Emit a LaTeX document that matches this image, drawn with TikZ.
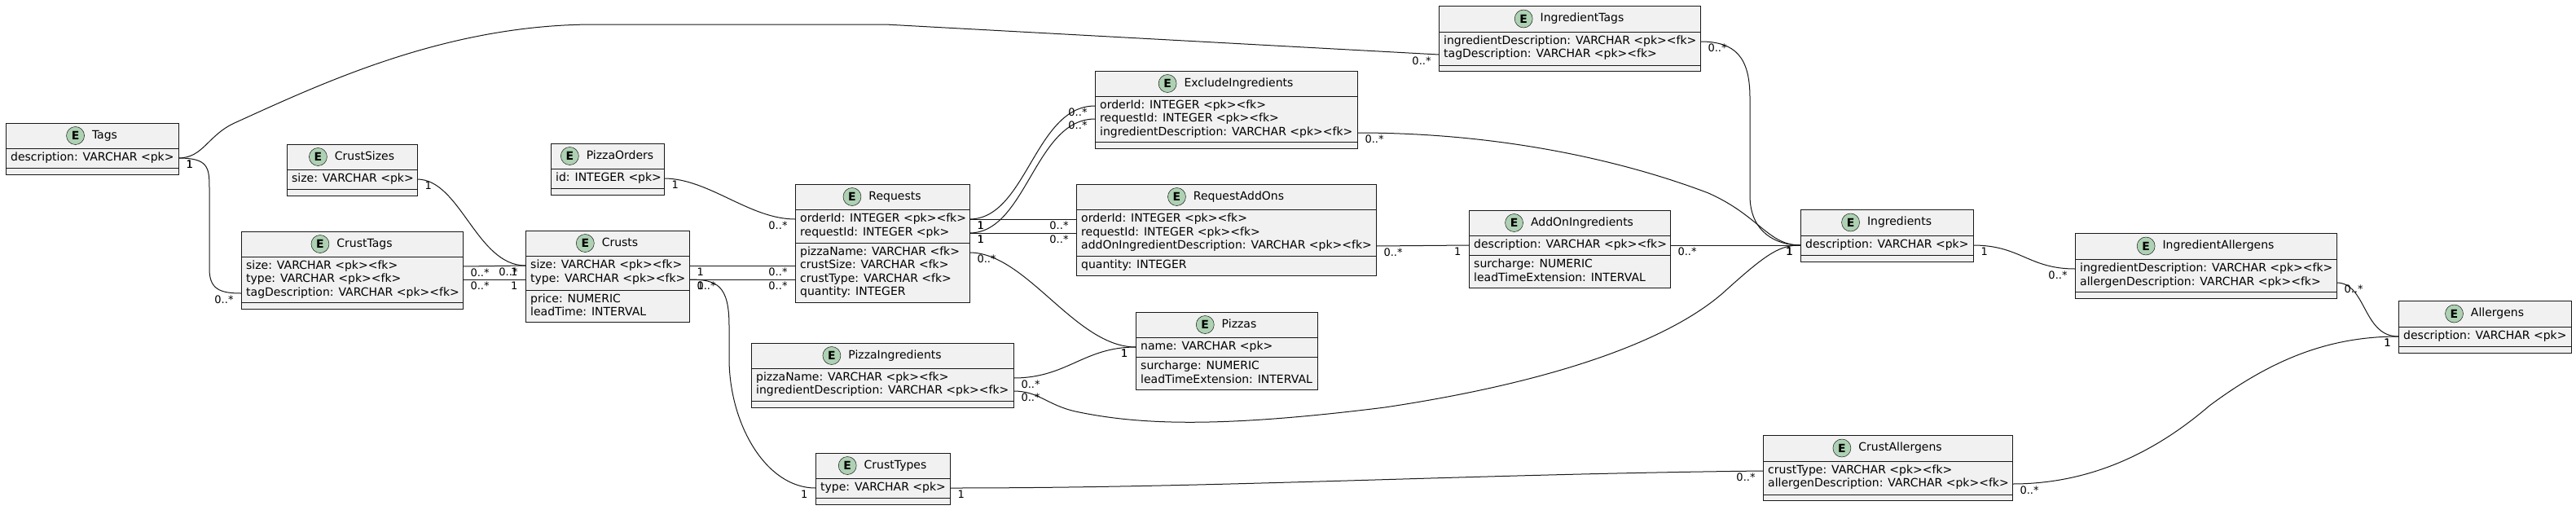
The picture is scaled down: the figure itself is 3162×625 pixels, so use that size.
\documentclass[tikz,border=0pt]{standalone}
\usepackage{fontspec}
\setmainfont{DejaVu Sans}
\usepackage{tikz}
\usetikzlibrary{positioning}
\definecolor{cline}{HTML}{181818}
\definecolor{cbox}{HTML}{F1F1F1}
\definecolor{cspot}{HTML}{ADD1B2}

\begin{document}
\begin{tikzpicture}[x=1pt,y=-1pt,
    ent/.style={draw=cline,fill=cbox,line width=0.5pt,anchor=north west,outer sep=0pt,inner sep=0pt},
    ttl/.style={inner sep=0pt,font=\fontsize{14}{16}\selectfont,text height=10.5pt,text depth=3pt},
    spot/.style={circle,draw=cline,fill=cspot,line width=0.5pt,minimum size=22pt,inner sep=0pt,font=\fontsize{14}{16}\selectfont\bfseries},
    row/.style={anchor=west,inner sep=0pt,font=\fontsize{14}{16}\selectfont,text height=10.5pt,text depth=3pt},
    sep/.style={draw=cline,line width=0.5pt},
    pksep/.style={draw=cline,line width=1pt},
    rel/.style={draw=cline,line width=1pt},
    mr/.style={anchor=west,xshift=7pt,yshift=-8pt,inner sep=2pt,font=\fontsize{13}{15}\selectfont},
    ml/.style={anchor=east,xshift=-7pt,yshift=-8pt,inner sep=2pt,font=\fontsize{13}{15}\selectfont}]
    \fill[white] (0,0) rectangle (3162,625);

    \node[ent,minimum width=212pt,minimum height=63pt] (tags) at (7,151) {};
    \node[ttl] (tagsT) at (128.5,166.5) {Tags};
    \node[spot,left=9pt of tagsT] (tagsE) {E};
    \draw[sep] (7,182) -- (219,182) (7,206) -- (219,206);
    \node[row] (tagsDesc) at (13,194) {description: VARCHAR <pk>};

    \node[ent,minimum width=160pt,minimum height=63pt] (csizes) at (352,177) {};
    \node[ttl] (csizesT) at (447.5,192.5) {CrustSizes};
    \node[spot,left=9pt of csizesT] (csizesE) {E};
    \draw[sep] (352,208) -- (512,208) (352,232) -- (512,232);
    \node[row] (csizesSize) at (358,220) {size: VARCHAR <pk>};

    \node[ent,minimum width=139pt,minimum height=63pt] (porders) at (676,176) {};
    \node[ttl] (pordersT) at (761,191.5) {PizzaOrders};
    \node[spot,left=9pt of pordersT] (pordersE) {E};
    \draw[sep] (676,207) -- (815,207) (676,231) -- (815,231);
    \node[row] (pordersId) at (682,219) {id: INTEGER <pk>};

    \node[ent,minimum width=272pt,minimum height=95pt] (ctags) at (296,284) {};
    \node[ttl] (ctagsT) at (447.5,299.5) {CrustTags};
    \node[spot,left=9pt of ctagsT] (ctagsE) {E};
    \draw[sep] (296,315) -- (568,315) (296,371) -- (568,371);
    \node[row] (ctagsSize) at (302,327) {size: VARCHAR <pk><fk>};
    \node[row] (ctagsType) at (302,343) {type: VARCHAR <pk><fk>};
    \node[row] (ctagsTag) at (302,360) {tagDescription: VARCHAR <pk><fk>};

    \node[ent,minimum width=201pt,minimum height=112pt] (crusts) at (645,283) {};
    \node[ttl] (crustsT) at (761,298.5) {Crusts};
    \node[spot,left=9pt of crustsT] (crustsE) {E};
    \draw[sep] (645,314) -- (846,314);
    \draw[pksep] (645,356) -- (846,356);
    \node[row] (crustsSize) at (651,326) {size: VARCHAR <pk><fk>};
    \node[row] (crustsType) at (651,343) {type: VARCHAR <pk><fk>};
    \node[row] (crustsPrice) at (651,368) {price: NUMERIC};
    \node[row] (crustsLead) at (651,384) {leadTime: INTERVAL};

    \node[ent,minimum width=214pt,minimum height=145pt] (requests) at (976,226) {};
    \node[ttl] (requestsT) at (1098.5,241.5) {Requests};
    \node[spot,left=9pt of requestsT] (requestsE) {E};
    \draw[sep] (976,257) -- (1190,257);
    \draw[pksep] (976,298) -- (1190,298);
    \node[row] (reqOrder) at (982,269) {orderId: INTEGER <pk><fk>};
    \node[row] (reqId) at (982,286) {requestId: INTEGER <pk>};
    \node[row] (reqPizza) at (982,310) {pizzaName: VARCHAR <fk>};
    \node[row] (reqSize) at (982,326) {crustSize: VARCHAR <fk>};
    \node[row] (reqType) at (982,343) {crustType: VARCHAR <fk>};
    \node[row] (reqQty) at (982,359) {quantity: INTEGER};

    \node[ent,minimum width=322pt,minimum height=95pt] (excl) at (1344,87) {};
    \node[ttl] (exclT) at (1520.5,102.5) {ExcludeIngredients};
    \node[spot,left=9pt of exclT] (exclE) {E};
    \draw[sep] (1344,118) -- (1666,118) (1344,174) -- (1666,174);
    \node[row] (exclOrder) at (1350,130) {orderId: INTEGER <pk><fk>};
    \node[row] (exclReq) at (1350,146) {requestId: INTEGER <pk><fk>};
    \node[row] (exclIngr) at (1350,163) {ingredientDescription: VARCHAR <pk><fk>};

    \node[ent,minimum width=368pt,minimum height=112pt] (addons) at (1321,226) {};
    \node[ttl] (addonsT) at (1520.5,241.5) {RequestAddOns};
    \node[spot,left=9pt of addonsT] (addonsE) {E};
    \draw[sep] (1321,257) -- (1689,257);
    \draw[pksep] (1321,314) -- (1689,314);
    \node[row] (addonsOrder) at (1327,269) {orderId: INTEGER <pk><fk>};
    \node[row] (addonsReq) at (1327,286) {requestId: INTEGER <pk><fk>};
    \node[row] (addonsIngr) at (1327,302) {addOnIngredientDescription: VARCHAR <pk><fk>};
    \node[row] (addonsQty) at (1327,326) {quantity: INTEGER};

    \node[ent,minimum width=321pt,minimum height=80pt] (itags) at (1766,7) {};
    \node[ttl] (itagsT) at (1942,23) {IngredientTags};
    \node[spot,left=9pt of itagsT] (itagsE) {E};
    \draw[sep] (1766,39) -- (2087,39) (1766,80) -- (2087,80);
    \node[row] (itagsIngr) at (1772,51) {ingredientDescription: VARCHAR <pk><fk>};
    \node[row] (itagsTag) at (1772,67) {tagDescription: VARCHAR <pk><fk>};

    \node[ent,minimum width=247pt,minimum height=95pt] (aoingr) at (1803,258) {};
    \node[ttl] (aoingrT) at (1942,273.5) {AddOnIngredients};
    \node[spot,left=9pt of aoingrT] (aoingrE) {E};
    \draw[sep] (1803,289) -- (2050,289);
    \draw[pksep] (1803,313) -- (2050,313);
    \node[row] (aoingrDesc) at (1809,301) {description: VARCHAR <pk><fk>};
    \node[row] (aoingrSur) at (1809,325) {surcharge: NUMERIC};
    \node[row] (aoingrLead) at (1809,342) {leadTimeExtension: INTERVAL};

    \node[ent,minimum width=212pt,minimum height=64pt] (ingr) at (2210,257) {};
    \node[ttl] (ingrT) at (2331.5,273) {Ingredients};
    \node[spot,left=9pt of ingrT] (ingrE) {E};
    \draw[sep] (2210,289) -- (2422,289) (2210,313) -- (2422,313);
    \node[row] (ingrDesc) at (2216,301) {description: VARCHAR <pk>};

    \node[ent,minimum width=321pt,minimum height=80pt] (iallerg) at (2547,286) {};
    \node[ttl] (iallergT) at (2723,302) {IngredientAllergens};
    \node[spot,left=9pt of iallergT] (iallergE) {E};
    \draw[sep] (2547,318) -- (2868,318) (2547,358) -- (2868,358);
    \node[row] (iallergIngr) at (2553,330) {ingredientDescription: VARCHAR <pk><fk>};
    \node[row] (iallergAllerg) at (2553,347) {allergenDescription: VARCHAR <pk><fk>};

    \node[ent,minimum width=212pt,minimum height=64pt] (allerg) at (2944,369) {};
    \node[ttl] (allergT) at (3065.5,385) {Allergens};
    \node[spot,left=9pt of allergT] (allergE) {E};
    \draw[sep] (2944,401) -- (3156,401) (2944,425) -- (3156,425);
    \node[row] (allergDesc) at (2950,413) {description: VARCHAR <pk>};

    \node[ent,minimum width=223pt,minimum height=95pt] (pizzas) at (1394,383) {};
    \node[ttl] (pizzasT) at (1521,398.5) {Pizzas};
    \node[spot,left=9pt of pizzasT] (pizzasE) {E};
    \draw[sep] (1394,414) -- (1617,414);
    \draw[pksep] (1394,438) -- (1617,438);
    \node[row] (pizzasName) at (1400,426) {name: VARCHAR <pk>};
    \node[row] (pizzasSur) at (1400,450) {surcharge: NUMERIC};
    \node[row] (pizzasLead) at (1400,467) {leadTimeExtension: INTERVAL};

    \node[ent,minimum width=322pt,minimum height=79pt] (pingr) at (922,421) {};
    \node[ttl] (pingrT) at (1098.5,436.5) {PizzaIngredients};
    \node[spot,left=9pt of pingrT] (pingrE) {E};
    \draw[sep] (922,452) -- (1244,452) (922,492) -- (1244,492);
    \node[row] (pingrPizza) at (928,464) {pizzaName: VARCHAR <pk><fk>};
    \node[row] (pingrIngr) at (928,480) {ingredientDescription: VARCHAR <pk><fk>};

    \node[ent,minimum width=165pt,minimum height=63pt] (ctypes) at (1001,556) {};
    \node[ttl] (ctypesT) at (1099,571.5) {CrustTypes};
    \node[spot,left=9pt of ctypesT] (ctypesE) {E};
    \draw[sep] (1001,587) -- (1166,587) (1001,611) -- (1166,611);
    \node[row] (ctypesType) at (1007,599) {type: VARCHAR <pk>};

    \node[ent,minimum width=306pt,minimum height=80pt] (callerg) at (2164,534) {};
    \node[ttl] (callergT) at (2332.5,550) {CrustAllergens};
    \node[spot,left=9pt of callergT] (callergE) {E};
    \draw[sep] (2164,566) -- (2470,566) (2164,607) -- (2470,607);
    \node[row] (callergType) at (2170,578) {crustType: VARCHAR <pk><fk>};
    \node[row] (callergAllerg) at (2170,594) {allergenDescription: VARCHAR <pk><fk>};

    \draw[rel] (tags.east |- tagsDesc) node[mr] {1} .. controls (250,194) and (255,165) .. (290,150) .. controls (400,100) and (550,30) .. (730,30) -- (1087,30) -- (itags.west |- itagsTag) node[ml] {0..*};
    \draw[rel] (tags.east |- tagsDesc) node[mr] {1} .. controls (255,194) and (257,205) .. (257,230) -- (257,330) .. controls (257,355) and (270,360) .. (ctags.west |- ctagsTag) node[ml] {0..*};
    \draw[rel] (csizes.east |- csizesSize) node[mr] {1} .. controls (565,220) and (585,326) .. (crusts.west |- crustsSize) node[ml] {0..*};
    \draw[rel] (ctags.east |- ctagsSize) node[mr] {0..*} -- (crusts.west |- crustsSize) node[ml] {1};
    \draw[rel] (ctags.east |- ctagsType) node[mr] {0..*} -- (crusts.west |- crustsType) node[ml] {1};
    \draw[rel] (porders.east |- pordersId) node[mr] {1} .. controls (870,219) and (920,269) .. (requests.west |- reqOrder) node[ml] {0..*};
    \draw[rel] (crusts.east |- crustsSize) node[mr] {1} -- (requests.west |- reqSize) node[ml] {0..*};
    \draw[rel] (crusts.east |- crustsType) node[mr] {1} -- (requests.west |- reqType) node[ml] {0..*};
    \draw[rel] (crusts.east |- crustsType) node[mr] {0..*} .. controls (880,343) and (895,350) .. (895,400) -- (895,440) .. controls (895,520) and (940,599) .. (ctypes.west |- ctypesType) node[ml] {1};
    \draw[rel] (requests.east |- reqOrder) node[mr] {1} .. controls (1260,269) and (1270,130) .. (excl.west |- exclOrder) node[ml] {0..*};
    \draw[rel] (requests.east |- reqId) node[mr] {1} .. controls (1260,286) and (1270,146) .. (excl.west |- exclReq) node[ml] {0..*};
    \draw[rel] (requests.east |- reqOrder) node[mr] {1} -- (addons.west |- addonsOrder) node[ml] {0..*};
    \draw[rel] (requests.east |- reqId) node[mr] {1} -- (addons.west |- addonsReq) node[ml] {0..*};
    \draw[rel] (requests.east |- reqPizza) node[mr] {0..*} .. controls (1260,310) and (1320,426) .. (pizzas.west |- pizzasName) node[ml] {1};
    \draw[rel] (excl.east |- exclIngr) node[mr] {0..*} .. controls (1850,163) and (2000,200) .. (2097,237) .. controls (2160,265) and (2170,301) .. (ingr.west |- ingrDesc) node[ml] {1};
    \draw[rel] (addons.east |- addonsIngr) node[mr] {0..*} -- (aoingr.west |- aoingrDesc) node[ml] {1};
    \draw[rel] (aoingr.east |- aoingrDesc) node[mr] {0..*} -- (ingr.west |- ingrDesc) node[ml] {1};
    \draw[rel] (itags.east |- itagsIngr) node[mr] {0..*} .. controls (2130,51) and (2148,70) .. (2148,120) -- (2148,240) .. controls (2148,285) and (2180,301) .. (ingr.west |- ingrDesc) node[ml] {1};
    \draw[rel] (pingr.east |- pingrPizza) node[mr] {0..*} .. controls (1310,464) and (1330,426) .. (pizzas.west |- pizzasName) node[ml] {1};
    \draw[rel] (pingr.east |- pingrIngr) node[mr] {0..*} .. controls (1275,480) and (1285,497) .. (1320,505) .. controls (1400,522) and (1500,525) .. (1700,500) .. controls (1900,470) and (2050,420) .. (2120,355) .. controls (2170,310) and (2185,301) .. (ingr.west |- ingrDesc) node[ml] {1};
    \draw[rel] (ctypes.east |- ctypesType) node[mr] {1} .. controls (1500,599) and (1800,582) .. (callerg.west |- callergType) node[ml] {0..*};
    \draw[rel] (callerg.east |- callergAllerg) node[mr] {0..*} .. controls (2560,594) and (2640,560) .. (2712,498) .. controls (2790,440) and (2860,413) .. (allerg.west |- allergDesc) node[ml] {1};
    \draw[rel] (ingr.east |- ingrDesc) node[mr] {1} .. controls (2480,301) and (2490,330) .. (iallerg.west |- iallergIngr) node[ml] {0..*};
    \draw[rel] (iallerg.east |- iallergAllerg) node[mr] {0..*} .. controls (2905,347) and (2900,413) .. (allerg.west |- allergDesc) node[ml] {1};
\end{tikzpicture}
\end{document}
